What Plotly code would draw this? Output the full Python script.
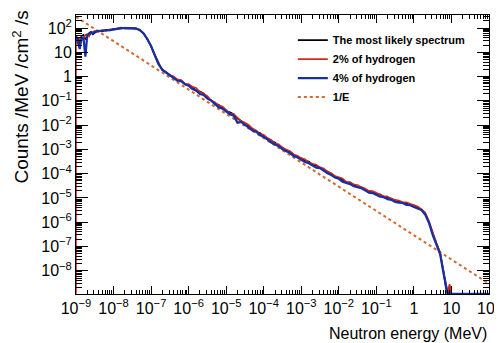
import plotly.graph_objects as go

# log10 of neutron energy (MeV), shared bin grid
log_energy = [-9.0, -8.95, -8.9, -8.85, -8.8, -8.75, -8.7, -8.65, -8.6, -8.55, -8.5,
              -8.4, -8.3, -8.2, -8.1, -8.0, -7.9, -7.8, -7.7, -7.6, -7.5,
              -7.4, -7.3, -7.2, -7.1, -7.0, -6.9, -6.8, -6.7, -6.6, -6.5,
              -6.4, -6.3, -6.2, -6.1, -6.0, -5.9, -5.8, -5.7, -5.6, -5.5,
              -5.4, -5.3, -5.2, -5.1, -5.0, -4.9, -4.8, -4.7, -4.6, -4.5,
              -4.4, -4.3, -4.2, -4.1, -4.0, -3.9, -3.8, -3.7, -3.6, -3.5,
              -3.4, -3.3, -3.2, -3.1, -3.0, -2.9, -2.8, -2.7, -2.6, -2.5,
              -2.4, -2.3, -2.2, -2.1, -2.0, -1.9, -1.8, -1.7, -1.6, -1.5,
              -1.4, -1.3, -1.2, -1.1, -1.0, -0.9, -0.8, -0.7, -0.6, -0.5,
              -0.4, -0.3, -0.2, -0.1, 0.0, 0.1, 0.2, 0.3, 0.4, 0.5,
              0.6, 0.7, 0.8, 0.85, 0.9, 0.95, 1.0, 2.0]

ZERO = -8.95  # empty bins (drawn on the lower frame)

# log10 of counts /MeV /cm^2 /s
most_likely_log = [1.50, 1.62, 1.30, 1.68, 1.72, 1.55, 1.62, 1.80, 1.85, 1.74, 1.80,
                   1.90, 1.86, 1.93, 1.90, 1.97, 1.96, 2.02, 1.99, 2.01, 2.00,
                   1.99, 1.92, 1.79, 1.55, 1.25, 0.88, 0.50, 0.30, 0.17, 0.07,
                   -0.01, -0.15, -0.16, -0.29, -0.36, -0.42, -0.58, -0.61, -0.69, -0.88,
                   -0.97, -1.13, -1.16, -1.30, -1.42, -1.47, -1.55, -1.73, -1.82, -1.99,
                   -2.03, -2.15, -2.28, -2.32, -2.46, -2.59, -2.64, -2.71, -2.87, -2.92,
                   -3.06, -3.09, -3.21, -3.34, -3.37, -3.47, -3.50, -3.64, -3.66, -3.75,
                   -3.88, -3.91, -4.00, -4.14, -4.17, -4.27, -4.36, -4.36, -4.46, -4.56,
                   -4.55, -4.63, -4.73, -4.75, -4.84, -4.85, -4.98, -4.99, -5.02, -5.12,
                   -5.13, -5.20, -5.22, -5.30, -5.30, -5.39, -5.48, -5.66, -5.99, -6.48,
                   -6.92, -7.28, -8.18, -8.70, ZERO, -8.62, ZERO, ZERO]

hydrogen2_log = [1.45, 1.35, 1.60, 1.50, 1.55, 1.72, 1.75, 1.66, 1.80, 1.85, 1.88,
                 1.84, 1.92, 1.88, 1.95, 1.93, 2.00, 1.98, 2.02, 1.99, 2.01,
                 1.97, 1.93, 1.77, 1.56, 1.24, 0.90, 0.55, 0.26, 0.19, 0.04,
                 0.01, -0.11, -0.14, -0.30, -0.31, -0.42, -0.47, -0.64, -0.70, -0.80,
                 -0.98, -1.05, -1.18, -1.23, -1.37, -1.52, -1.54, -1.68, -1.83, -1.90,
                 -1.99, -2.14, -2.22, -2.37, -2.40, -2.53, -2.61, -2.76, -2.79, -2.93,
                 -3.00, -3.07, -3.21, -3.26, -3.36, -3.40, -3.55, -3.58, -3.63, -3.74,
                 -3.79, -3.92, -3.98, -4.10, -4.16, -4.20, -4.34, -4.36, -4.45, -4.47,
                 -4.56, -4.61, -4.71, -4.72, -4.79, -4.88, -4.92, -4.94, -5.05, -5.08,
                 -5.11, -5.18, -5.18, -5.24, -5.30, -5.35, -5.46, -5.60, -5.95, -6.45,
                 -6.85, -7.25, -8.05, -8.50, ZERO, -8.55, ZERO, ZERO]

hydrogen4_log = [1.70, 1.45, 1.14, 1.62, 1.58, 0.82, 1.72, 1.76, 1.80, 1.78, 1.85,
                 1.88, 1.88, 1.91, 1.92, 1.96, 1.97, 2.00, 2.01, 2.00, 1.99,
                 1.98, 1.91, 1.78, 1.54, 1.26, 0.87, 0.52, 0.27, 0.16, 0.05,
                 -0.05, -0.17, -0.19, -0.32, -0.37, -0.51, -0.57, -0.72, -0.76, -0.91,
                 -0.99, -1.14, -1.26, -1.32, -1.43, -1.55, -1.61, -1.90, -1.87, -1.99,
                 -2.08, -2.22, -2.27, -2.41, -2.49, -2.58, -2.72, -2.80, -2.87, -3.00,
                 -3.07, -3.15, -3.28, -3.32, -3.43, -3.52, -3.57, -3.65, -3.75, -3.77,
                 -3.88, -3.98, -4.06, -4.16, -4.21, -4.33, -4.38, -4.43, -4.52, -4.56,
                 -4.60, -4.69, -4.78, -4.80, -4.87, -4.95, -4.97, -5.05, -5.08, -5.17,
                 -5.19, -5.21, -5.29, -5.30, -5.37, -5.43, -5.50, -5.68, -6.02, -6.52,
                 -6.93, -7.33, -8.20, -8.65, ZERO, ZERO, ZERO, ZERO]

# 1/E reference line end points
inv_e_energy = [1e-9, 1e2]
inv_e_counts = [2.9e2, 2.9e-9]

x_tick_vals = [1e-9, 1e-8, 1e-7, 1e-6, 1e-5, 1e-4, 1e-3, 1e-2, 1e-1, 1, 10, 100]
x_tick_text = ["10<sup>\u22129</sup>", "10<sup>\u22128</sup>", "10<sup>\u22127</sup>",
               "10<sup>\u22126</sup>", "10<sup>\u22125</sup>", "10<sup>\u22124</sup>",
               "10<sup>\u22123</sup>", "10<sup>\u22122</sup>", "10<sup>\u22121</sup>",
               "1", "10", "10<sup>2</sup>"]
y_tick_vals = [1e-8, 1e-7, 1e-6, 1e-5, 1e-4, 1e-3, 1e-2, 1e-1, 1, 10, 100]
y_tick_text = ["10<sup>\u22128</sup>", "10<sup>\u22127</sup>", "10<sup>\u22126</sup>",
               "10<sup>\u22125</sup>", "10<sup>\u22124</sup>", "10<sup>\u22123</sup>",
               "10<sup>\u22122</sup>", "10<sup>\u22121</sup>", "1", "10", "10<sup>2</sup>"]

energy = [10 ** v for v in log_energy]
red_energy = [1e-9] + energy
red_vals = [10 ** ZERO] + [10 ** v for v in hydrogen2_log]

FONT = "Liberation Sans, Arial"

fig = go.Figure()
fig.add_trace(go.Scatter(x=inv_e_energy, y=inv_e_counts, mode="lines", name="1/E",
                         line=dict(color="#d2692a", width=2, dash="dot"), showlegend=False))
fig.add_trace(go.Scatter(x=energy, y=[10 ** v for v in most_likely_log], mode="lines",
                         name="The most likely spectrum", line=dict(color="black", width=1.6)))
fig.add_trace(go.Scatter(x=red_energy, y=red_vals, mode="lines",
                         name="2% of hydrogen", line=dict(color="#d42a1e", width=1.6)))
fig.add_trace(go.Scatter(x=energy, y=[10 ** v for v in hydrogen4_log], mode="lines",
                         name="4% of hydrogen", line=dict(color="#1430a8", width=2.2)))
# legend entry for 1/E at the end
fig.add_trace(go.Scatter(x=[None], y=[None], mode="lines", name="1/E",
                         line=dict(color="#d2692a", width=2, dash="dot")))

axis_common = dict(showline=True, linecolor="black", linewidth=1, mirror="allticks",
                   ticks="inside", showgrid=False, zeroline=False, automargin=False,
                   tickfont=dict(family=FONT, size=16, color="black"))

fig.update_xaxes(type="log", range=[-9, 2], tickvals=x_tick_vals, ticktext=x_tick_text,
                 ticklen=8, tickcolor="black",
                 minor=dict(ticks="inside", ticklen=4, dtick="D1", tickcolor="black", showgrid=False),
                 **axis_common)
fig.update_yaxes(type="log", range=[-8.96, 2.54], tickvals=y_tick_vals, ticktext=y_tick_text,
                 ticklen=12, tickcolor="black",
                 minor=dict(ticks="inside", ticklen=6, dtick="D1", tickcolor="black", showgrid=False),
                 **axis_common)

# the page body adds an 8 px offset; the figure is sized to fill the rest of the window
fig.update_layout(
    template="none",
    width=494, height=335,
    margin=dict(l=68, r=13, t=7, b=49, autoexpand=False),
    paper_bgcolor="white", plot_bgcolor="white",
    font=dict(family=FONT, color="black"),
    legend=dict(x=0.525, y=0.962, xanchor="left", yanchor="top",
                bgcolor="rgba(0,0,0,0)", font=dict(family=FONT, size=11, color="black", weight="bold"),
                tracegroupgap=0, itemwidth=30),
    annotations=[
        dict(text="Neutron energy (MeV)", xref="paper", yref="paper", x=1.0, y=-0.14,
             xanchor="right", yanchor="middle", showarrow=False,
             font=dict(family=FONT, size=16, color="black")),
        dict(text="Counts /MeV /cm<sup>2</sup> /s", xref="paper", yref="paper",
             x=(20 - 76) / 413, y=(294 - 9) / 279, xanchor="center", yanchor="top",
             textangle=-90, showarrow=False,
             font=dict(family=FONT, size=19, color="black")),
    ],
)

fig.write_html("out.html")
